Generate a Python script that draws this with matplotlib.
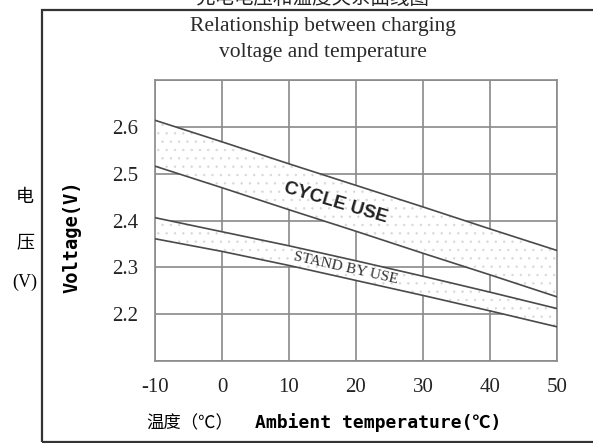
import matplotlib
matplotlib.use('Agg')
import matplotlib.pyplot as plt
from matplotlib.patches import Rectangle

# Values
temperature = [-10, 0, 10, 20, 30, 40, 50]
cycle_upper = [2.614, 2.568, 2.521, 2.475, 2.429, 2.382, 2.336]
cycle_lower = [2.516, 2.470, 2.423, 2.377, 2.330, 2.284, 2.237]
standby_upper = [2.406, 2.376, 2.346, 2.314, 2.281, 2.247, 2.212]
standby_lower = [2.361, 2.334, 2.304, 2.272, 2.240, 2.207, 2.173]

x_ticks = [-10, 0, 10, 20, 30, 40, 50]
y_ticks = [2.2, 2.3, 2.4, 2.5, 2.6]
y_grid = [2.1, 2.2, 2.3, 2.4, 2.5, 2.6, 2.7]

SERIF = ['Liberation Serif', 'DejaVu Serif']
CJK = ['Noto Sans CJK SC', 'DejaVu Sans']
MONO = ['DejaVu Sans Mono', 'Noto Sans CJK SC']

plt.rcParams['hatch.linewidth'] = 0.5

fig = plt.figure(figsize=(5.93, 4.43), dpi=100)
ax = fig.add_axes([155 / 593, 82 / 443, 402 / 593, 281 / 443])

# outer frame
fig.patches.append(Rectangle((42 / 593, 1 / 443), 1.0, 432 / 443, transform=fig.transFigure,
                             fill=False, edgecolor='#333333', linewidth=1.6, zorder=0))

# grid
for x in x_ticks:
    ax.axvline(x, color='#8a8a8a', linewidth=1.2, zorder=1)
for y in y_grid:
    ax.axhline(y, color='#8a8a8a', linewidth=1.2, zorder=1)

# bands
ax.fill_between(temperature, cycle_lower, cycle_upper, facecolor='white',
                edgecolor='#d8d8d8', hatch='..', linewidth=0, zorder=2)
ax.fill_between(temperature, standby_lower, standby_upper, facecolor='white',
                edgecolor='#d8d8d8', hatch='..', linewidth=0, zorder=2)
for series in (cycle_upper, cycle_lower, standby_upper, standby_lower):
    ax.plot(temperature, series, color='#4a4a4a', linewidth=1.2, zorder=3)

ax.text(16.9, 2.438, 'CYCLE USE', rotation=-16.5, rotation_mode='anchor',
        ha='center', va='center', fontsize=13.5, fontweight='bold',
        family=['Liberation Sans'], color='#222222', zorder=4)
ax.text(18.4, 2.297, 'STAND BY USE', rotation=-12.7, rotation_mode='anchor',
        ha='center', va='center', fontsize=11, family=SERIF, color='#333333', zorder=4)

ax.set_xlim(-10, 50)
ax.set_ylim(2.1, 2.7)
ax.set_xticks(x_ticks)
ax.set_xticklabels([str(v) for v in x_ticks], family=SERIF, fontsize=15, color='#222222')
ax.set_yticks(y_ticks)
ax.set_yticklabels([f'{v:.1f}' for v in y_ticks], family=SERIF, fontsize=15, color='#222222')
ax.tick_params(length=0, pad=12)
for s in ax.spines.values():
    s.set_color('#8a8a8a')
    s.set_linewidth(1.2)

# titles and labels (the Chinese title is cut at the top edge, as in the source image)
fig.text(313 / 593, 1.004, '充电电压和温度关系曲线图', ha='center', va='center',
         fontsize=14, family=CJK, color='#222222')
fig.text(323 / 593, 1 - 27 / 443, 'Relationship between charging', ha='center', va='center',
         fontsize=15.5, family=SERIF, color='#2a2a2a')
fig.text(323 / 593, 1 - 53 / 443, 'voltage and temperature', ha='center', va='center',
         fontsize=15.5, family=SERIF, color='#2a2a2a')

fig.text(25 / 593, 1 - 197 / 443, '电', ha='center', va='center', fontsize=13, family=CJK)
fig.text(25 / 593, 1 - 242 / 443, '压', ha='center', va='center', fontsize=13, family=CJK)
fig.text(25 / 593, 1 - 282 / 443, '(V)', ha='center', va='center', fontsize=13, family=SERIF)
fig.text(72 / 593, 1 - 237 / 443, 'Voltage(V)', rotation=90, ha='center', va='center',
         fontsize=13.5, fontweight='bold', family=MONO)

fig.text(190 / 593, 1 - 423 / 443, '温度（℃）', ha='center', va='center', fontsize=12.5, family=CJK)
fig.text(378 / 593, 1 - 423 / 443, 'Ambient temperature(℃)', ha='center', va='center',
         fontsize=13, fontweight='bold', family=MONO)

fig.savefig('out.png', dpi=100)
